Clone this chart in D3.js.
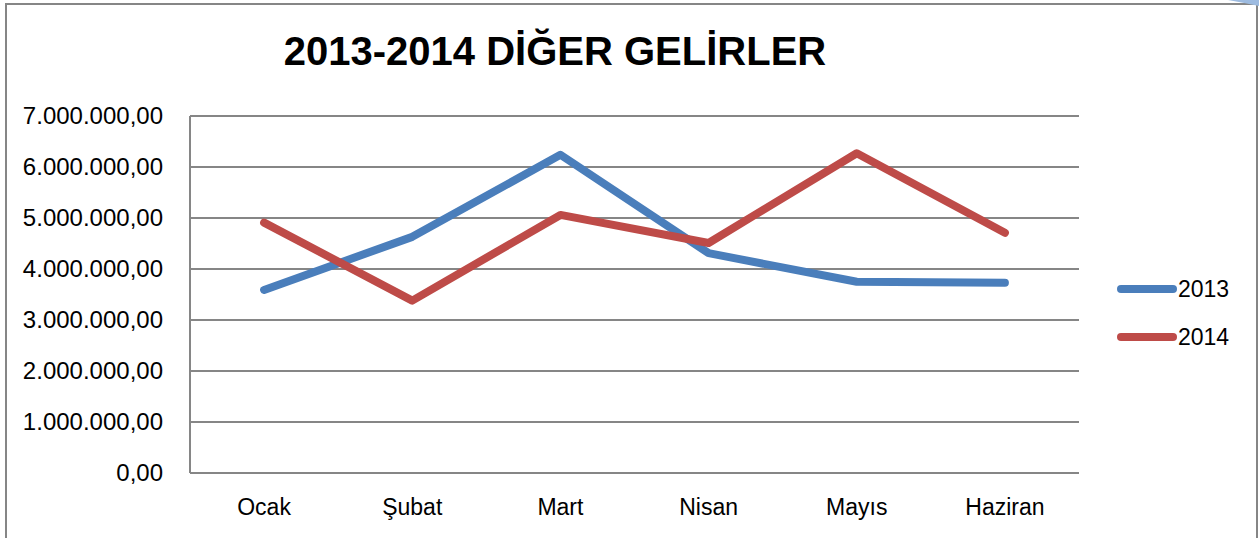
<html>
<head>
<meta charset="utf-8">
<script src="https://d3js.org/d3.v7.min.js" charset="utf-8"></script>
<style>
body { margin: 0; background: white; font-family: "Liberation Sans", Arial, sans-serif; }
</style>
</head>
<body>
<script>
// chart data
var months = ["Ocak", "Şubat", "Mart", "Nisan", "Mayıs", "Haziran"];
var values2013 = [3590000, 4630000, 6240000, 4310000, 3750000, 3730000];
var values2014 = [4910000, 3380000, 5060000, 4510000, 6270000, 4710000];
var seriesNames = ["2013", "2014"];
var seriesColors = ["#4A7EBB", "#BE4B48"];
var yTicks = [0, 1000000, 2000000, 3000000, 4000000, 5000000, 6000000, 7000000];

var width = 1259, height = 538;
var margin = {left: 190, top: 116, right: 180, bottom: 65};

var svg = d3.select("body").append("svg")
	.attr("width", width)
	.attr("height", height);

// outer chart border
svg.append("rect")
	.attr("x", 6).attr("y", 4)
	.attr("width", 1251).attr("height", 560)
	.attr("fill", "white")
	.attr("stroke", "#868686")
	.attr("stroke-width", 2);

// little blue corner of the page behind
svg.append("path")
	.attr("d", "M1228,0 L1259,0 L1259,6 Q1245,3 1228,0 Z")
	.attr("fill", "#9dbbe0");

var x = d3.scalePoint()
	.domain(months)
	.range([margin.left, width - margin.right])
	.padding(0.5);

var y = d3.scaleLinear()
	.domain([0, 7000000])
	.range([height - margin.bottom, margin.top]);

// number format like 7.000.000,00
var tr = d3.formatLocale({decimal: ",", thousands: ".", grouping: [3], currency: ["", ""]});
var fmt = tr.format(",.2f");

// gridlines
svg.append("g")
	.selectAll("line")
	.data(yTicks)
	.enter()
	.append("line")
	.attr("x1", margin.left).attr("x2", width - margin.right)
	.attr("y1", function(d) { return y(d); })
	.attr("y2", function(d) { return y(d); })
	.attr("stroke", "#868686")
	.attr("stroke-width", 2);

// y axis line
svg.append("line")
	.attr("x1", margin.left).attr("x2", margin.left)
	.attr("y1", y(7000000)).attr("y2", y(0))
	.attr("stroke", "#868686")
	.attr("stroke-width", 2);

// y tick labels
svg.append("g")
	.selectAll("text")
	.data(yTicks)
	.enter()
	.append("text")
	.attr("x", 163)
	.attr("y", function(d) { return y(d); })
	.attr("dy", "0.35em")
	.attr("text-anchor", "end")
	.attr("font-size", 24)
	.text(function(d) { return fmt(d); });

// x labels
svg.append("g")
	.selectAll("text")
	.data(months)
	.enter()
	.append("text")
	.attr("x", function(d) { return x(d); })
	.attr("y", 515)
	.attr("text-anchor", "middle")
	.attr("font-size", 23)
	.text(function(d) { return d; });

// lines
var line = d3.line()
	.x(function(d, i) { return x(months[i]); })
	.y(function(d) { return y(d); });

[values2013, values2014].forEach(function(vals, i) {
	svg.append("path")
		.datum(vals)
		.attr("d", line)
		.attr("fill", "none")
		.attr("stroke", seriesColors[i])
		.attr("stroke-width", 8)
		.attr("stroke-linecap", "round")
		.attr("stroke-linejoin", "round");
});

// legend
var legend = svg.append("g");
seriesNames.forEach(function(name, i) {
	var ly = 289 + i * 48;
	legend.append("line")
		.attr("x1", 1121).attr("x2", 1173)
		.attr("y1", ly).attr("y2", ly)
		.attr("stroke", seriesColors[i])
		.attr("stroke-width", 8)
		.attr("stroke-linecap", "round");
	legend.append("text")
		.attr("x", 1178).attr("y", ly)
		.attr("dy", "0.35em")
		.attr("font-size", 23)
		.text(name);
});

// title
svg.append("text")
	.attr("x", 555).attr("y", 65)
	.attr("text-anchor", "middle")
	.attr("font-size", 40)
	.attr("font-weight", "bold")
	.text("2013-2014 DİĞER GELİRLER");
</script>
</body>
</html>
